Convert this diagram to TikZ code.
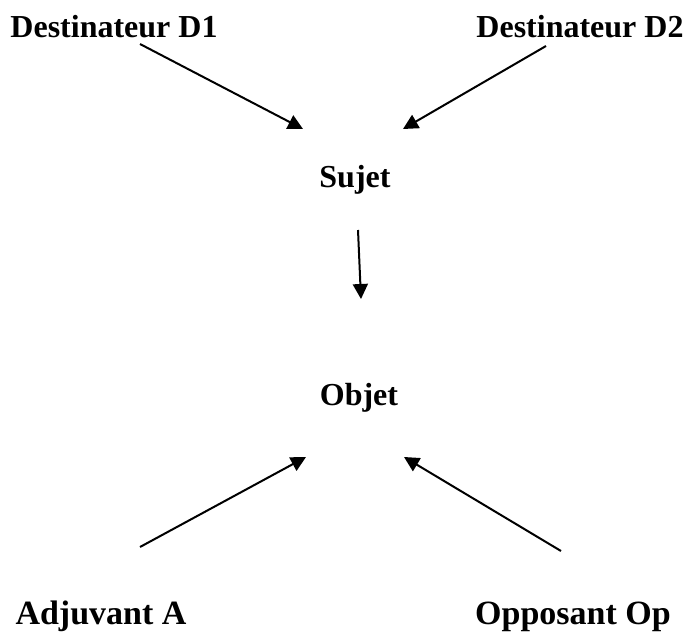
\documentclass[tikz,border=0pt]{standalone}
\usepackage{fontspec}
\setmainfont{Liberation Serif}
\usetikzlibrary{arrows.meta}
\begin{document}
\begin{tikzpicture}[x=1pt,y=-1pt,
  lab/.style={inner sep=0pt,anchor=base,font=\fontsize{32}{38}\selectfont\bfseries},
  labb/.style={lab,font=\fontsize{34}{40}\selectfont\bfseries},
  arr/.style={line width=2pt,-{Triangle[length=15pt,width=15pt]}}]
\useasboundingbox (0,0) rectangle (687,632);
\node[lab] (d1) at (114,37) {Destinateur D1};
\node[lab] (d2) at (580,37) {Destinateur D2};
\node[lab] (suj) at (355,187) {Sujet};
\node[lab] (obj) at (359,405) {Objet};
\node[labb] (adj) at (101,624) {Adjuvant A};
\node[labb] (opp) at (573,624) {Opposant Op};
\coordinate (d1s) at (140,44);
\coordinate (d1e) at (303,129);
\coordinate (d2s) at (546,46);
\coordinate (d2e) at (403,129);
\coordinate (ss) at (358,230);
\coordinate (se) at (361,299);
\coordinate (as) at (140,547);
\coordinate (ae) at (306,457);
\coordinate (os) at (561,551);
\coordinate (oe) at (404,457);
\draw[arr] (d1s) -- (d1e);
\draw[arr] (d2s) -- (d2e);
\draw[arr] (ss) -- (se);
\draw[arr] (as) -- (ae);
\draw[arr] (os) -- (oe);
\end{tikzpicture}
\end{document}
